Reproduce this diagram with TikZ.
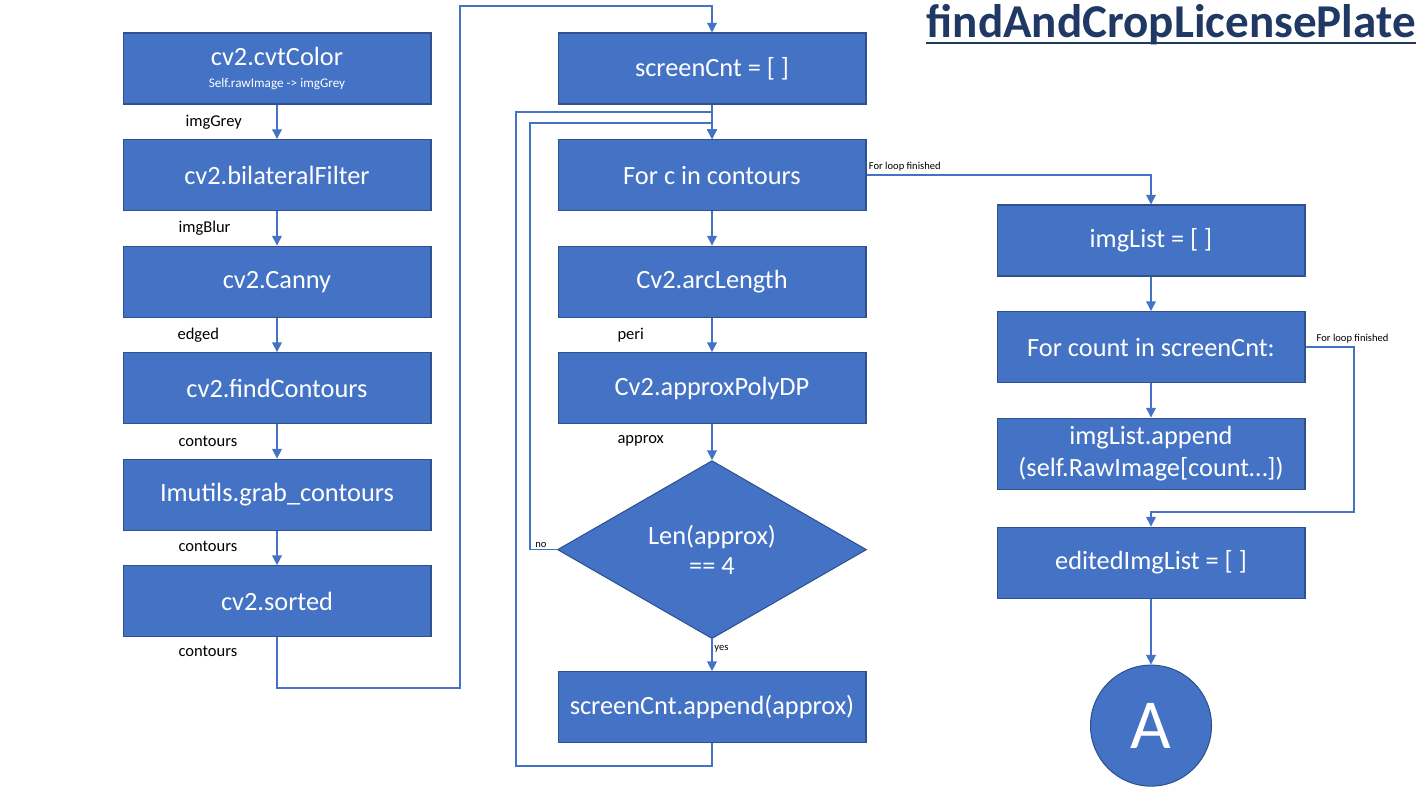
\documentclass[tikz,border=0pt]{standalone}
\usepackage{fontspec}
\setmainfont{Carlito}
\usetikzlibrary{arrows.meta, positioning, calc, shapes.geometric}
\definecolor{boxblue}{HTML}{4472C4}
\definecolor{boxedge}{HTML}{2F528F}
\definecolor{titlenavy}{HTML}{203864}

\begin{document}
\begin{tikzpicture}[
    x=0.02cm, y=0.02cm,
    node distance=0.69cm and 0.69cm,
    box/.style={
        draw=boxedge,
        fill=boxblue,
        text=white,
        align=center,
        minimum width=6.16cm,
        minimum height=1.42cm,
        inner sep=2pt,
        font=\fontsize{15}{18}\selectfont,
        line width=0.6pt
    },
    decide/.style={
        diamond,
        draw=boxedge,
        fill=boxblue,
        text=white,
        align=center,
        minimum width=6.18cm,
        minimum height=3.56cm,
        inner sep=0pt,
        font=\fontsize{15}{17}\selectfont,
        line width=0.6pt
    },
    connector/.style={
        circle,
        draw=boxedge,
        fill=boxblue,
        text=white,
        minimum size=2.42cm,
        inner sep=0pt,
        font=\fontsize{40}{44}\selectfont,
        line width=0.6pt
    },
    arrow/.style={
        -{Triangle[length=5.5pt, width=5.5pt]},
        draw=boxblue,
        line width=0.75pt
    },
    elabel/.style={
        anchor=west,
        font=\fontsize{9.4}{11}\selectfont
    },
    tiny/.style={
        font=\fontsize{6}{7}\selectfont,
        inner sep=1pt
    }
]
\useasboundingbox (0,0) rectangle (1420,-795);

% Title
\node (title) [anchor=base east, inner sep=0pt, text=titlenavy,
    font=\fontsize{26.8}{30}\selectfont\bfseries] at (1416,-37) {findAndCropLicensePlate};
\draw [titlenavy, line width=1.7pt] ($(title.base west)+(0,-6)$) -- ($(title.base east)+(0,-6)$);

% Left column
\node (cvt) [box] at (277,-68.5) {cv2.cvtColor\\[-5pt]{\fontsize{7.5}{9}\selectfont Self.rawImage -> imgGrey}};
\node (bilat) [box, below=of cvt] {cv2.bilateralFilter};
\node (canny) [box, below=of bilat] {cv2.Canny};
\node (findc) [box, below=of canny] {cv2.findContours};
\node (grab) [box, below=of findc] {Imutils.grab\_contours};
\node (sorted) [box, below=of grab] {cv2.sorted};

% Middle column
\node (screen) [box] at (712,-68.5) {screenCnt = [ ]};
\node (forc) [box, below=of screen] {For c in contours};
\node (arc) [box, below=of forc] {Cv2.arcLength};
\node (poly) [box, below=of arc] {Cv2.approxPolyDP};
\node (lencheck) [decide, below=0.72cm of poly] {Len(approx)\\== 4};
\node (append) [box, below=0.64cm of lencheck] {screenCnt.append(approx)};

% Right column
\node (imglist) [box] at (1151,-240.5) {imgList = [ ]};
\node (forcnt) [box, below=of imglist] {For count in screenCnt:};
\node (imgapp) [box, below=of forcnt] {imgList.append\\(self.RawImage[count…])};
\node (edited) [box, below=0.74cm of imgapp] {editedImgList = [ ]};
\node (conA) [connector, below=1.32cm of edited] {A};

% Bend points
\coordinate (jumpL) at (460,-688);
\coordinate (jumpT) at (460,-6);
\coordinate (backB) at (516,-766);
\coordinate (backT) at (516,-112);
\coordinate (noT) at (530,-123);
\coordinate (fcR) at (1354,-512);

% Paths
\draw [arrow] (cvt) -- node[elabel, xshift=-1.96cm] {imgGrey} (bilat);
\draw [arrow] (bilat) -- node[elabel, xshift=-2.1cm] {imgBlur} (canny);
\draw [arrow] (canny) -- node[elabel, xshift=-2.12cm] {edged} (findc);
\draw [arrow] (findc) -- node[elabel, xshift=-2.1cm, pos=0.5] {contours} (grab);
\draw [arrow] (grab) -- node[elabel, xshift=-2.1cm, pos=0.45] {contours} (sorted);
\draw [arrow] (sorted.south) |- node[elabel, xshift=-2.1cm, pos=0.14] {contours} (jumpL)
    -- (jumpT) -| (screen.north);

\draw [arrow] (screen) -- (forc);
\draw [arrow] (forc) -- (arc);
\draw [arrow] (arc) -- node[elabel, xshift=-2.02cm] {peri} (poly);
\draw [arrow] (poly) -- node[elabel, xshift=-2.02cm, pos=0.45] {approx} (lencheck);
\draw [arrow] (lencheck) -- node[tiny, anchor=west, pos=0.3] {yes} (append);
\draw [arrow] (lencheck.west) -| node[tiny, above, pos=0.3] {no} (noT) -| (forc.north);
\draw [arrow] (append.south) |- (backB) -- (backT) -| (forc.north);

\draw [arrow] (forc.east) -| node[tiny, anchor=south west, pos=0, yshift=1pt] {For loop finished} (imglist.north);
\draw [arrow] (imglist) -- (forcnt);
\draw [arrow] (forcnt) -- (imgapp);
\draw [arrow] (forcnt.east) -| node[tiny, anchor=south west, pos=0, xshift=5pt, yshift=1pt] {For loop finished} (fcR)
    -| (edited.north);
\draw [arrow] (edited) -- (conA);

\end{tikzpicture}
\end{document}
